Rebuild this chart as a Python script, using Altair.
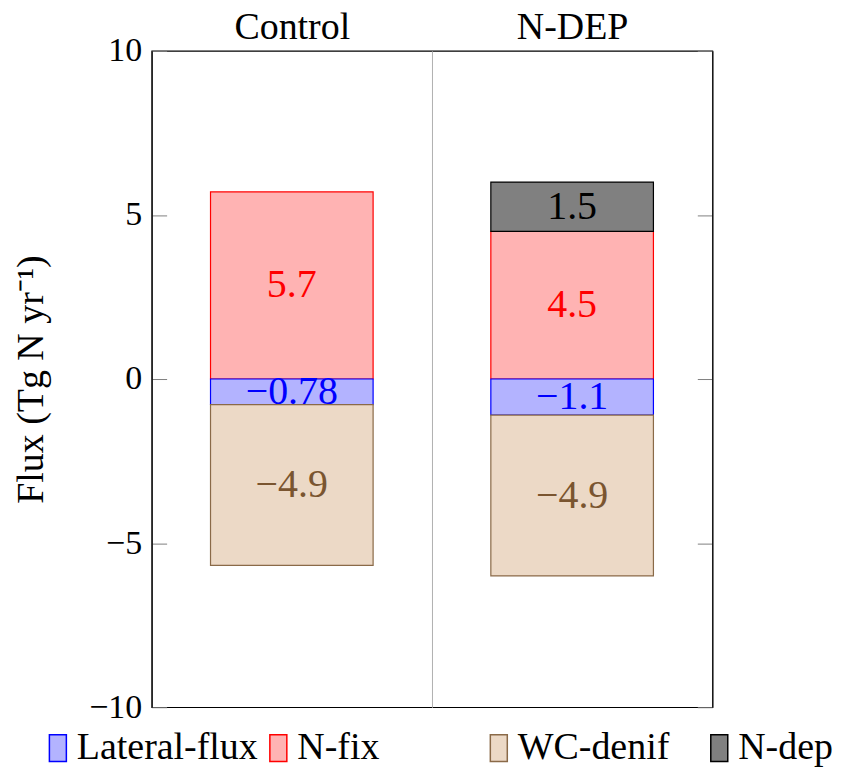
import altair as alt
import pandas as pd

categories = ["Control", "N-DEP"]
components = ["Lateral-flux", "N-fix", "WC-denif", "N-dep"]
lateral_flux = [-0.78, -1.1]
n_fix = [5.7, 4.5]
wc_denif = [-4.9, -4.9]
n_dep = [None, 1.5]

fill_colors = ["#b3b3ff", "#ffb3b3", "#ecd9c6", "#808080"]
stroke_colors = ["#0000ff", "#ff0000", "#8a6a48", "#000000"]
text_colors = ["#0000ff", "#ff0000", "#7a5530", "#000000"]
y_ticks = [-10, -5, 0, 5, 10]

series = {"Lateral-flux": lateral_flux, "N-fix": n_fix, "WC-denif": wc_denif, "N-dep": n_dep}
stack_order = ["N-fix", "N-dep", "Lateral-flux", "WC-denif"]
rows = []
for i, cat in enumerate(categories):
    pos, neg = 0.0, 0.0
    for comp in stack_order:
        v = series[comp][i]
        if v is None:
            continue
        if v >= 0:
            y0, y1 = pos, pos + v
            pos = y1
        else:
            y0, y1 = neg, neg + v
            neg = y1
        rows.append(dict(category=cat, component=comp, value=v, y0=y0, y1=y1,
                         mid=(y0 + y1) / 2, label=f"{v:g}".replace("-", "\u2212")))
df = pd.DataFrame(rows)

font = "Liberation Serif"

x_enc = alt.X("category:N", sort=categories,
              scale=alt.Scale(paddingInner=0, paddingOuter=0),
              axis=alt.Axis(orient="top", title=None, ticks=False, domain=False, labelAngle=0,
                            labelFontSize=38, labelFont=font, labelColor="black", labelPadding=4,
                            grid=True, tickBand="extent", gridColor="#b0b0b0", gridWidth=1))

legend = alt.Legend(orient="none", legendX=-113, legendY=680, direction="horizontal", columns=4,
                    gridAlign="all", symbolType="M-0.63,-1H0.63V1H-0.63Z", symbolSize=729,
                    symbolStrokeWidth=1.5, labelFont=font, labelFontSize=38, labelColor="black",
                    labelLimit=400, labelOffset=0, columnPadding=1, padding=0, title=None)

bars = alt.Chart(df).mark_bar(strokeWidth=1.2, width=alt.RelativeBandSize(0.58)).encode(
    x=x_enc,
    y=alt.Y("y0:Q", scale=alt.Scale(domain=[-10, 10], nice=False),
            axis=alt.Axis(values=y_ticks, title="Flux (Tg N yr\u207b\u00b9)", titleFont=font,
                          titleFontSize=38, titleFontWeight="normal", titleColor="black",
                          titlePadding=38, labelFont=font, labelFontSize=34, labelColor="black",
                          labelPadding=10, ticks=False, domain=True, domainColor="black",
                          domainWidth=1.2, grid=True, gridColor="#808080",
                          gridDash=[15, 532, 15])),
    y2="y1:Q",
    fill=alt.Fill("component:N", scale=alt.Scale(domain=components, range=fill_colors), legend=legend),
    stroke=alt.Stroke("component:N", scale=alt.Scale(domain=components, range=stroke_colors), legend=legend),
)

texts = alt.Chart(df).mark_text(font=font, fontSize=40, baseline="middle", align="center").encode(
    x=x_enc,
    y=alt.Y("mid:Q", scale=alt.Scale(domain=[-10, 10], nice=False),
            axis=alt.Axis(orient="right", title=None, labels=False, ticks=False, grid=False,
                          domain=True, domainColor="black", domainWidth=1.2)),
    text="label:N",
    color=alt.Color("component:N", scale=alt.Scale(domain=components, range=text_colors), legend=None),
)

chart = alt.layer(bars, texts).resolve_axis(y="independent").properties(
    width=562, height=658,
    padding={"left": 4, "top": 0, "right": 0, "bottom": 0},
).configure_view(stroke="black", strokeWidth=1.2)

chart.save("out.html", embed_options={"renderer": "svg", "actions": False})
